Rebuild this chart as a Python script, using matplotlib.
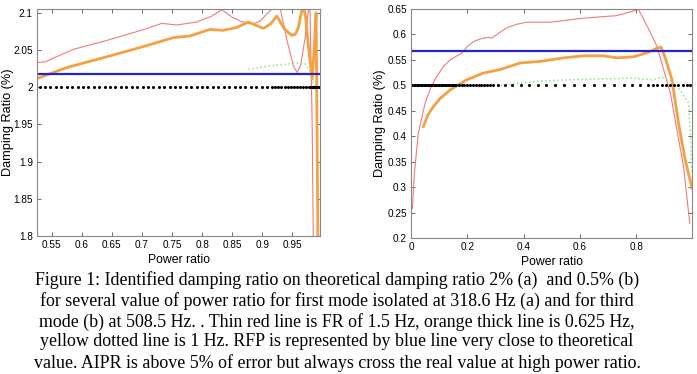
import numpy as np
import matplotlib
matplotlib.use("Agg")
from matplotlib import pyplot as plt

# ---- panel (a): mode 1, theoretical damping 2 %
a_red_x = [0.5256, 0.539, 0.586, 0.647, 0.708, 0.733, 0.758, 0.791, 0.815, 0.833, 0.850, 0.863, 0.875,
           0.885, 0.897, 0.907, 0.918, 0.924, 0.93, 0.942, 0.952, 0.958, 0.964, 0.971, 0.977, 0.979,
           0.983, 0.986]
a_red_y = [2.033, 2.034, 2.0508, 2.064, 2.0786, 2.0857, 2.0835, 2.0875, 2.095, 2.104, 2.094, 2.089,
           2.086, 2.085, 2.089, 2.098, 2.106, 2.13, 2.105, 2.06, 2.028, 2.0196, 2.03, 2.065, 2.105,
           2.12, 1.95, 1.7]
a_orange_x = [0.5256, 0.575, 0.647, 0.702, 0.752, 0.780, 0.813, 0.835, 0.857, 0.877, 0.890, 0.902,
              0.914, 0.924, 0.937, 0.949, 0.955, 0.960, 0.965, 0.968, 0.972, 0.976, 0.983, 0.987,
              0.9895, 0.993]
a_orange_y = [2.0115, 2.0263, 2.042, 2.0544, 2.0665, 2.0688, 2.0776, 2.0763, 2.080, 2.0875, 2.083,
              2.079, 2.085, 2.0955, 2.078, 2.0696, 2.071, 2.08, 2.10, 2.109, 2.095, 2.06, 2.0106,
              2.06, 2.10, 1.75]
a_green_x = [0.877, 0.90, 0.93, 0.955, 0.972, 0.98, 0.985, 0.99, 0.993]
a_green_y = [2.024, 2.027, 2.030, 2.032, 2.031, 2.02, 2.005, 1.99, 1.98]
a_rfp = 2.0182
a_theo = 2.0
a_dots_x = [0.530, 0.539, 0.548, 0.557, 0.566, 0.575, 0.584, 0.593, 0.602, 0.611, 0.620, 0.629, 0.638,
            0.647, 0.656, 0.665, 0.674, 0.683, 0.692, 0.701, 0.710, 0.719, 0.728, 0.737, 0.746, 0.755,
            0.764, 0.773, 0.782, 0.791, 0.800, 0.809, 0.818, 0.827, 0.836, 0.845, 0.854, 0.863, 0.872,
            0.881, 0.890, 0.899, 0.908, 0.917, 0.922, 0.927, 0.932, 0.937, 0.942, 0.947, 0.952, 0.957,
            0.962, 0.967, 0.972, 0.977, 0.980, 0.982, 0.984, 0.986, 0.988, 0.990, 0.992, 0.994]
a_xticks = [0.55, 0.6, 0.65, 0.7, 0.75, 0.8, 0.85, 0.9, 0.95]
a_yticks = [1.8, 1.85, 1.9, 1.95, 2.0, 2.05, 2.1]

# ---- panel (b): mode 3, theoretical damping 0.5 %
b_red_x = [0.005, 0.012, 0.026, 0.050, 0.070, 0.091, 0.115, 0.139, 0.160, 0.180, 0.200, 0.222, 0.245,
           0.269, 0.287, 0.310, 0.340, 0.375, 0.411, 0.494, 0.613, 0.731, 0.808, 0.840, 0.874, 0.921,
           0.968, 0.990]
b_red_y = [0.258, 0.327, 0.406, 0.465, 0.495, 0.517, 0.537, 0.550, 0.557, 0.563, 0.576, 0.586, 0.591,
           0.594, 0.593, 0.602, 0.613, 0.620, 0.624, 0.624, 0.632, 0.637, 0.649, 0.615, 0.576, 0.485,
           0.340, 0.229]
b_orange_x = [0.044, 0.060, 0.079, 0.105, 0.139, 0.198, 0.257, 0.316, 0.388, 0.459, 0.542, 0.613,
              0.684, 0.731, 0.790, 0.844, 0.874, 0.888, 0.903, 0.927, 0.950, 0.974, 0.998]
b_orange_y = [0.419, 0.442, 0.458, 0.475, 0.491, 0.511, 0.524, 0.531, 0.544, 0.547, 0.554, 0.558,
              0.558, 0.554, 0.556, 0.565, 0.573, 0.575, 0.554, 0.511, 0.426, 0.353, 0.298]
b_green_x = [0.305, 0.447, 0.613, 0.790, 0.856, 0.891, 0.927, 0.950, 0.986, 0.992, 0.998]
b_green_y = [0.499, 0.508, 0.512, 0.514, 0.511, 0.516, 0.508, 0.495, 0.465, 0.406, 0.327]
b_rfp = 0.5666
b_theo = 0.5
b_dots_x = [0.0, 0.005, 0.01, 0.015, 0.02, 0.025, 0.03, 0.035, 0.04, 0.045, 0.05, 0.055, 0.06, 0.065,
            0.07, 0.075, 0.08, 0.085, 0.09, 0.095, 0.1, 0.105, 0.11, 0.115, 0.12, 0.125, 0.13, 0.135,
            0.14, 0.145, 0.15, 0.155, 0.16, 0.17, 0.18, 0.19, 0.20, 0.21, 0.22, 0.23, 0.24, 0.25, 0.26,
            0.27, 0.28, 0.29, 0.31, 0.335, 0.36, 0.39, 0.42, 0.45, 0.48, 0.51, 0.545, 0.58, 0.615, 0.65,
            0.685, 0.72, 0.755, 0.785, 0.815, 0.84, 0.86, 0.875, 0.89, 0.905, 0.92, 0.935, 0.95, 0.965,
            0.98, 0.99]
b_xticks = [0, 0.2, 0.4, 0.6, 0.8]
b_yticks = [0.2, 0.25, 0.3, 0.35, 0.4, 0.45, 0.5, 0.55, 0.6, 0.65]

caption = [
    "Figure 1: Identified damping ratio on theoretical damping ratio 2% (a)  and 0.5% (b)",
    "for several value of power ratio for first mode isolated at 318.6 Hz (a) and for third",
    "mode (b) at 508.5 Hz. . Thin red line is FR of 1.5 Hz, orange thick line is 0.625 Hz,",
    "yellow dotted line is 1 Hz. RFP is represented by blue line very close to theoretical",
    "value. AIPR is above 5% of error but always cross the real value at high power ratio.",
]

plt.rcParams['font.family'] = ['Liberation Sans', 'DejaVu Sans']

RED = '#f07a80'
ORANGE = '#f5a043'
GREEN = '#8ee58e'
BLUE = '#2424c8'


def panel(ax, rx, ry, ox, oy, gx, gy, rfp, theo, dx, xlim, ylim, xt, yt, ylab_x):
    ax.plot(rx, ry, color=RED, lw=0.8)
    ax.plot(ox, oy, color=ORANGE, lw=2.0)
    ax.plot(gx, gy, color=GREEN, lw=1.1, ls=':')
    ax.plot(xlim, [rfp, rfp], color=BLUE, lw=1.6)
    ax.plot(dx, [theo] * len(dx), ls='none', marker='.', ms=2.4, color='black')
    ax.set_xlim(xlim)
    ax.set_ylim(ylim)
    ax.set_xticks(xt)
    ax.set_yticks(yt)
    ax.set_xticklabels([('%g' % v) for v in xt])
    ax.set_yticklabels([('%g' % v) for v in yt])
    ax.tick_params(direction='in', top=True, right=True, length=3, width=0.6,
                   labelsize=7.2, colors='#555555', labelcolor='black', pad=3)
    for s in ax.spines.values():
        s.set_color('#888888')
        s.set_linewidth(0.8)
    ax.set_xlabel('Power ratio', fontsize=8.8, labelpad=3)
    ax.set_ylabel('Damping Ratio (%)', fontsize=9.2)
    ax.yaxis.set_label_coords(ylab_x, 0.5)


fig = plt.figure(figsize=(6.97, 3.74), dpi=100)
ax1 = fig.add_axes([37 / 697, 1 - 236 / 374, 283 / 697, 227 / 374])
ax2 = fig.add_axes([411 / 697, 1 - 238 / 374, 281 / 697, 229 / 374])

panel(ax1, a_red_x, a_red_y, a_orange_x, a_orange_y, a_green_x, a_green_y, a_rfp, a_theo,
      a_dots_x, (0.5256, 0.996), (1.8, 2.105), a_xticks, a_yticks, -0.081)
panel(ax2, b_red_x, b_red_y, b_orange_x, b_orange_y, b_green_x, b_green_y, b_rfp, b_theo,
      b_dots_x, (0.0, 0.998), (0.2, 0.65), b_xticks, b_yticks, -0.089)

ys = [280, 301.5, 321.7, 342, 363]
for line, y in zip(caption, ys):
    fig.text(337 / 697, 1 - y / 374, line, ha='center', va='center', fontsize=12.9,
             family=['Liberation Serif', 'DejaVu Serif'])

fig.savefig('out.png', dpi=100)
